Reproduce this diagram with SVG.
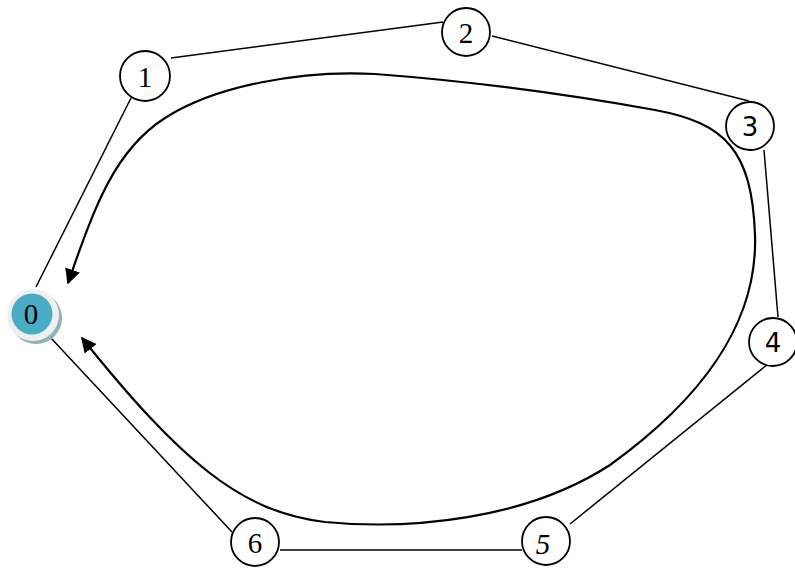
<svg xmlns="http://www.w3.org/2000/svg" width="795" height="568" viewBox="0 0 795 568">
<style>
.n{fill:#fff;stroke:#000;stroke-width:1.8}
.t{font-family:"Liberation Serif","Times New Roman",serif;font-size:29px;fill:#000;text-anchor:middle}
.ts{font-family:"DejaVu Sans","Liberation Sans",sans-serif;font-size:26px;fill:#000;text-anchor:middle}
.e{stroke:#000;stroke-width:1.5;fill:none}
.c{stroke:#000;stroke-width:2.2;fill:none}
</style>
<defs>
<marker id="ah" viewBox="0 0 10 10" refX="9" refY="5" markerWidth="7" markerHeight="7" orient="auto-start-reverse" markerUnits="strokeWidth">
<path d="M0,0 L10,5 L0,10 z" fill="#000"/>
</marker>
</defs>
<rect width="795" height="568" fill="#fff"/>
<g id="connectors">
<line class="e" x1="36" y1="287" x2="131" y2="98"/>
<line class="e" x1="171" y1="58" x2="443" y2="22"/>
<line class="e" x1="492" y1="36" x2="749" y2="101"/>
<line class="e" x1="764" y1="150" x2="778" y2="317"/>
<line class="e" x1="768" y1="364" x2="570" y2="524"/>
<line class="e" x1="522" y1="550" x2="280" y2="550"/>
<line class="e" x1="232" y1="532" x2="50" y2="337"/>
<path class="c" marker-start="url(#ah)" marker-end="url(#ah)" d="M68,283 C95,205 115,150 165,118 C215,86 300,70 375,74 C455,80 560,93 655,110 C725,123 752,150 755,235 C758,325 700,400 610,465 C525,520 410,530 325,522 C240,512 180,460 82,338"/>
</g>
<g id="node0">
<circle cx="36" cy="318" r="26" fill="#8fb3b8"/>
<circle cx="33" cy="315" r="26" fill="#efefef"/>
<circle cx="32" cy="314" r="20.5" fill="#4bacc6"/>
<text class="t" x="31" y="324">0</text>
</g>
<g id="node1"><circle class="n" cx="145" cy="76" r="25"/><text class="t" x="145" y="87">1</text></g>
<g id="node2"><circle class="n" cx="466" cy="32" r="24"/><text class="t" x="466" y="43">2</text></g>
<g id="node3"><circle class="n" cx="750" cy="126" r="24"/><text class="ts" x="750" y="136">3</text></g>
<g id="node4"><circle class="n" cx="773" cy="342" r="24"/><text class="ts" x="773" y="352">4</text></g>
<g id="node5"><circle class="n" cx="546" cy="541" r="24"/><text class="t" x="543" y="554" font-style="italic">5</text></g>
<g id="node6"><circle class="n" cx="255" cy="542" r="24"/><text class="t" x="255" y="553">6</text></g>
</svg>
